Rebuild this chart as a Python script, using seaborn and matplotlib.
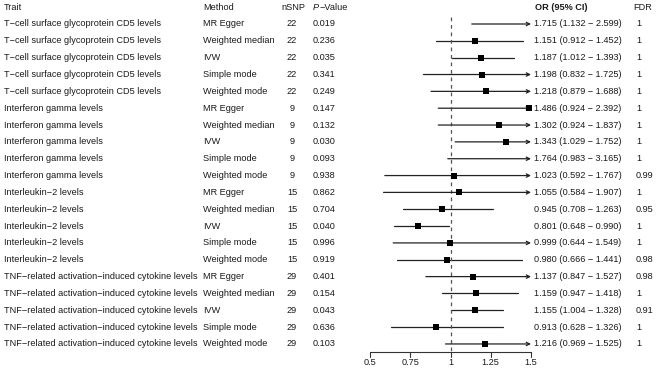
import numpy as np
import pandas as pd
import matplotlib.pyplot as plt
import seaborn as sns

traits = (["T−cell surface glycoprotein CD5 levels"] * 5
          + ["Interferon gamma levels"] * 5
          + ["Interleukin−2 levels"] * 5
          + ["TNF−related activation−induced cytokine levels"] * 5)
methods = ["MR Egger", "Weighted median", "IVW", "Simple mode", "Weighted mode"] * 4
nsnp = [22] * 5 + [9] * 5 + [15] * 5 + [29] * 5
pvals = [0.019, 0.236, 0.035, 0.341, 0.249,
         0.147, 0.132, 0.030, 0.093, 0.938,
         0.862, 0.704, 0.040, 0.996, 0.919,
         0.401, 0.154, 0.043, 0.636, 0.103]
or_est = [1.715, 1.151, 1.187, 1.198, 1.218,
          1.486, 1.302, 1.343, 1.764, 1.023,
          1.055, 0.945, 0.801, 0.999, 0.980,
          1.137, 1.159, 1.155, 0.913, 1.216]
or_low = [1.132, 0.912, 1.012, 0.832, 0.879,
          0.924, 0.924, 1.029, 0.983, 0.592,
          0.584, 0.708, 0.648, 0.644, 0.666,
          0.847, 0.947, 1.004, 0.628, 0.969]
or_high = [2.599, 1.452, 1.393, 1.725, 1.688,
           2.392, 1.837, 1.752, 3.165, 1.767,
           1.907, 1.263, 0.990, 1.549, 1.441,
           1.527, 1.418, 1.328, 1.326, 1.525]
fdr = ["1", "1", "1", "1", "1",
       "1", "1", "1", "1", "0.99",
       "1", "0.95", "1", "1", "0.98",
       "0.98", "1", "0.91", "1", "1"]
xticks = [0.5, 0.75, 1, 1.25, 1.5]

df = pd.DataFrame({"trait": traits, "method": methods, "nsnp": nsnp, "p": pvals,
                   "est": or_est, "low": or_low, "high": or_high, "fdr": fdr})
df["row"] = np.arange(len(df))

sns.set_style("white")
plt.rcParams["font.family"] = ["Liberation Sans", "DejaVu Sans"]
fs = 6.6
col = "#1a1a1a"

W, H = 660, 370
fig = plt.figure(figsize=(6.6, 3.7), dpi=100)
ax = fig.add_axes([0, 0, 1, 1])

# forest scale: 0.5 -> 370 px, 1.5 -> 531 px
x0, x1, px0, px1 = 0.5, 1.5, 370, 531
k = (x1 - x0) / (px1 - px0)
ax.set_xlim(x0 - px0 * k, x0 + (W - px0) * k)
# rows: row 0 at y=24 px, spacing 16.84 px
r0, dr = 24, 16.84
ax.set_ylim((H - r0) / dr, -r0 / dr)

def fx(px):
    return x0 + (px - px0) * k

for _, r in df.iterrows():
    h = min(r["high"], x1)
    if r["high"] > x1:
        ax.annotate("", xy=(x1, r["row"]), xytext=(max(r["low"], x0), r["row"]),
                    arrowprops=dict(arrowstyle="->", lw=0.9, color="#222222",
                                    shrinkA=0, shrinkB=0, mutation_scale=6))
    else:
        ax.plot([max(r["low"], x0), h], [r["row"], r["row"]], color="#222222", lw=0.9)

inside = df[(df["est"] >= x0) & (df["est"] <= x1)]
sns.scatterplot(data=inside, x="est", y="row", marker="s", s=20, color="black",
                edgecolor="black", linewidth=0, ax=ax, zorder=5, legend=False)

axis_y = (352 - r0) / dr
ax.plot([1, 1], [(17 - r0) / dr, axis_y], ls=(0, (3, 3)), color="#555555", lw=0.9)

# x axis
ax.set_xticks([])
ax.set_yticks([])
for s in ax.spines.values():
    s.set_visible(False)
ax.plot([x0, x1], [axis_y, axis_y], color="#333333", lw=0.8)
for t in xticks:
    ax.plot([t, t], [axis_y, axis_y + 5 / dr], color="#333333", lw=0.8)
    ax.text(t, axis_y + 11 / dr, f"{t:g}", ha="center", va="center", fontsize=fs, color=col)
ax.set_xlabel("")
ax.set_ylabel("")

# header
hy = -1
ax.text(fx(4), hy, "Trait", ha="left", va="center", fontsize=fs, color=col)
ax.text(fx(203), hy, "Method", ha="left", va="center", fontsize=fs, color=col)
ax.text(fx(293), hy, "nSNP", ha="center", va="center", fontsize=fs, color=col)
ptxt = ax.text(fx(313), hy, "P", ha="left", va="center", fontsize=fs, color=col, fontstyle="italic")
ax.annotate("−Value", xy=(1, 0), xycoords=ptxt, ha="left", va="bottom", fontsize=fs, color=col)
ax.text(fx(535), hy, "OR (95% CI)", ha="left", va="center", fontsize=fs, color=col, fontweight="bold")
ax.text(fx(633), hy, "FDR", ha="left", va="center", fontsize=fs, color=col)

for _, r in df.iterrows():
    y = r["row"]
    ax.text(fx(4), y, r["trait"], ha="left", va="center", fontsize=fs, color=col)
    ax.text(fx(203), y, r["method"], ha="left", va="center", fontsize=fs, color=col)
    ax.text(fx(292), y, str(r["nsnp"]), ha="center", va="center", fontsize=fs, color=col)
    ax.text(fx(313), y, f"{r['p']:.3f}", ha="left", va="center", fontsize=fs, color=col)
    ax.text(fx(534), y, f"{r['est']:.3f} ({r['low']:.3f} − {r['high']:.3f})",
            ha="left", va="center", fontsize=fs, color=col)
    ax.text(fx(636), y, r["fdr"], ha="left", va="center", fontsize=fs, color=col)

fig.savefig("out.png", dpi=100)
